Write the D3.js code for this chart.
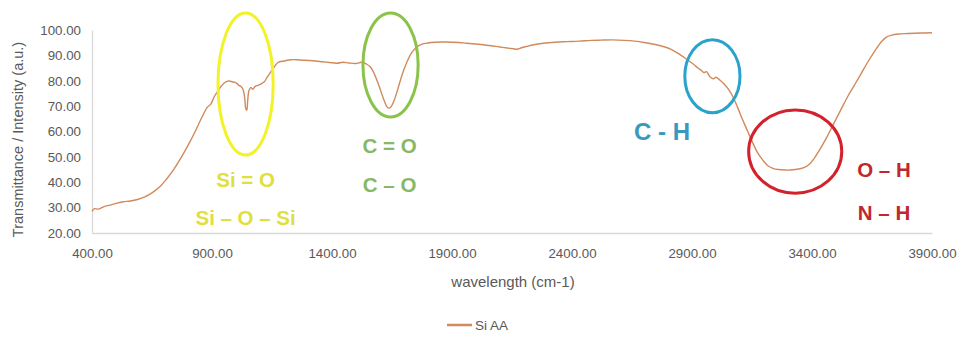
<!DOCTYPE html>
<html>
<head>
<meta charset="utf-8">
<script src="https://cdn.jsdelivr.net/npm/d3@7/dist/d3.min.js"></script>
<style>
  html, body { margin: 0; padding: 0; background: #ffffff; }
  svg { display: block; }
  text { font-family: "Liberation Sans", Arial, sans-serif; }
</style>
</head>
<body>
<svg id="chart" width="959" height="340"></svg>
<script>
// ---- Data ----
const wavenumbers = [
  400, 410, 425, 450, 475, 500, 530, 560, 590, 620, 650, 680, 710, 740, 770, 800, 830, 860, 880, 895,
  910, 925, 940, 955, 970, 985, 1000, 1012, 1022, 1030, 1036, 1041, 1045, 1049, 1054, 1062, 1070, 1080,
  1092, 1105, 1118, 1130, 1145, 1160, 1175, 1200, 1230, 1267, 1300, 1330, 1360, 1390, 1420, 1445, 1470,
  1500, 1525, 1545, 1560, 1575, 1590, 1605, 1618, 1630, 1638, 1648, 1660, 1672, 1686, 1700, 1715, 1730,
  1750, 1775, 1800, 1830, 1860, 1892, 1930, 1960, 1990, 2030, 2070, 2100, 2130, 2155, 2171, 2190, 2210,
  2240, 2280, 2330, 2380, 2430, 2480, 2520, 2570, 2620, 2660, 2700, 2740, 2780, 2815, 2850, 2880, 2905,
  2925, 2940, 2950, 2960, 2975, 2990, 3000, 3017, 3035, 3055, 3072, 3090, 3110, 3130, 3150, 3170, 3196,
  3215, 3237, 3260, 3290, 3321, 3350, 3375, 3392, 3410, 3430, 3462, 3490, 3520, 3550, 3575, 3600, 3630,
  3660, 3690, 3710, 3730, 3760, 3800, 3850, 3900
];
const transmittance = [
  28.5, 29.6, 29.4, 30.4, 31.0, 31.7, 32.3, 32.6, 33.2, 34.2, 35.8, 38.0, 41.2, 45.0, 49.5, 54.5, 60.0, 66.0, 69.5, 70.8,
  73.8, 76.0, 78.0, 79.4, 79.9, 79.6, 79.2, 78.2, 77.6, 76.4, 73.5, 69.0, 68.4, 72.5, 76.2, 77.4, 76.6, 77.8,
  78.2, 78.8, 79.6, 81.4, 83.5, 85.5, 87.2, 87.8, 88.3, 88.2, 88.0, 87.8, 87.5, 87.2, 86.9, 87.3, 87.0,
  86.8, 87.3, 86.5, 85.4, 83.0, 79.5, 75.5, 72.0, 69.6, 69.2, 70.0, 72.5, 76.0, 80.5, 84.5, 88.0, 90.8,
  93.0, 94.4, 94.9, 95.2, 95.3, 95.2, 95.1, 94.8, 94.6, 94.2, 93.7, 93.3, 92.9, 92.6, 92.4, 93.0, 93.5,
  94.2, 94.8, 95.2, 95.4, 95.6, 95.9, 96.0, 96.1, 95.9, 95.6, 95.1, 94.4, 93.5, 92.3, 90.3, 88.3, 86.6,
  85.0, 84.0, 83.2, 83.6, 81.6, 80.8, 81.4, 80.2, 78.6, 76.2, 73.4, 69.5, 64.8, 60.5, 56.2, 52.2, 48.6,
  46.6, 45.5, 45.0, 44.8, 44.9, 45.3, 46.2, 47.4, 49.5, 52.5, 57.8, 63.0, 68.5, 74.0, 78.0, 82.0, 87.0,
  91.5, 95.5, 97.2, 97.9, 98.4, 98.6, 98.8, 98.9
];
const xTicks = [400, 900, 1400, 1900, 2400, 2900, 3400, 3900];
const yTicks = [20, 30, 40, 50, 60, 70, 80, 90, 100];
const seriesName = "Si AA";
const xTitle = "wavelength (cm-1)";
const yTitle = "Transmittance / Intensity (a.u.)";

// Annotations: ellipse centres in data units, labels
const annotations = [
  { cx: 1040, cy: 78.7, rx: 115, ry: 28, color: "#f2f229", labels: ["Si = O", "Si \u2013 O \u2013 Si"], lx: 1040, ly: [38.3, 23.3], lcolor: "#e0e03c" },
  { cx: 1644, cy: 86.2, rx: 115, ry: 20.5, color: "#8bc34a", labels: ["C = O", "C \u2013 O"], lx: 1640, ly: [51.5, 36.2], lcolor: "#86b865" },
  { cx: 2985, cy: 81.8, rx: 115, ry: 14.4, color: "#2aa3cc", labels: ["C - H"], lx: 2775, ly: [56.6], lcolor: "#3a98be", big: true },
  { cx: 3330, cy: 52.1, rx: 194, ry: 16.4, color: "#d3222c", labels: ["O \u2013 H", "N \u2013 H"], lx: 3700, ly: [42.2, 25.2], lcolor: "#c0282e" }
];

// ---- Layout ----
const svg = d3.select("#chart");
const margin = { left: 92, right: 27, top: 30, bottom: 107 };
const W = 959, H = 340;
const x = d3.scaleLinear().domain([400, 3900]).range([margin.left, W - margin.right]);
const y = d3.scaleLinear().domain([20, 100]).range([H - margin.bottom, margin.top]);

svg.append("rect").attr("width", W).attr("height", H).attr("fill", "#ffffff");

// axes
const xAxis = d3.axisBottom(x).tickValues(xTicks).tickFormat(d3.format(".2f")).tickSize(0).tickPadding(16);
const yAxis = d3.axisLeft(y).tickValues(yTicks).tickFormat(d3.format(".2f")).tickSize(0).tickPadding(11);

const gx = svg.append("g").attr("transform", `translate(0,${y(20)})`).call(xAxis);
const gy = svg.append("g").attr("transform", `translate(${x(400)},0)`).call(yAxis);
[gx, gy].forEach(g => {
  g.select(".domain").attr("stroke", "#d9d9d9").attr("stroke-width", 1.3);
  g.selectAll("text").attr("fill", "#595959").attr("font-size", 13.3)
    .attr("font-family", "'Liberation Sans', Arial, sans-serif");
});

// titles
svg.append("text").attr("x", 513).attr("y", 287)
  .attr("text-anchor", "middle").attr("fill", "#595959").attr("font-size", 15).text(xTitle);
svg.append("text").attr("transform", `translate(23,${(y(20) + y(100)) / 2 + 8}) rotate(-90)`)
  .attr("text-anchor", "middle").attr("fill", "#595959").attr("font-size", 14.5).text(yTitle);

// series line
const data = wavenumbers.map((w, i) => ({ w, t: transmittance[i] }));
const line = d3.line().x(d => x(d.w)).y(d => y(d.t)).curve(d3.curveCatmullRom.alpha(0.5));
svg.append("path").datum(data).attr("d", line)
  .attr("fill", "none").attr("stroke", "#d08a5c").attr("stroke-width", 1.4);

// annotations
const kx = (x(3900) - x(400)) / 3500, ky = (y(20) - y(100)) / 80;
annotations.forEach(a => {
  svg.append("ellipse").attr("cx", x(a.cx)).attr("cy", y(a.cy))
    .attr("rx", a.rx * kx).attr("ry", a.ry * ky)
    .attr("fill", "none").attr("stroke", a.color).attr("stroke-width", 3);
  a.labels.forEach((t, i) => {
    svg.append("text").attr("x", x(a.lx)).attr("y", y(a.ly[i]))
      .attr("text-anchor", "middle").attr("fill", a.lcolor)
      .attr("font-weight", "bold").attr("font-size", a.big ? 24 : 20.5)
      .attr("font-family", "'Liberation Sans', Arial, sans-serif")
      .text(t);
  });
});

// legend
const lg = svg.append("g").attr("transform", "translate(447,325)");
lg.append("line").attr("x1", 0).attr("x2", 25).attr("y1", 0).attr("y2", 0)
  .attr("stroke", "#d08a5c").attr("stroke-width", 2.5);
lg.append("text").attr("x", 28).attr("y", 5).attr("fill", "#595959").attr("font-size", 13.5).text(seriesName);
</script>
</body>
</html>
